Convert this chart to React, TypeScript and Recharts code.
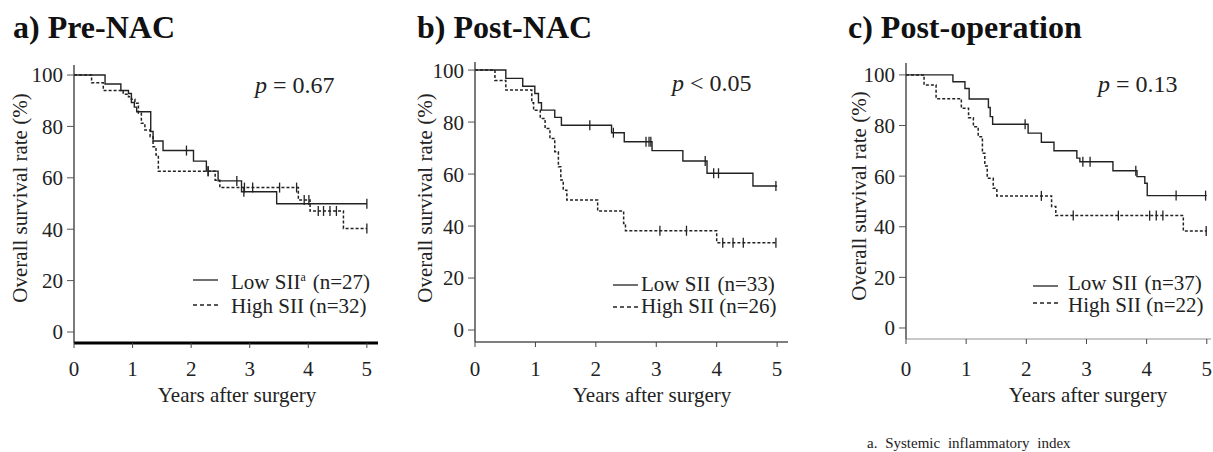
import React from "react";
import { ComposedChart, Line, Scatter, XAxis, YAxis } from "recharts";

// Kaplan-Meier step points: [years, survival %]
const lowPre: [number, number][] = [
  [0, 100], [0.53, 96.5], [0.8, 94], [0.93, 92.8], [0.98, 89.3], [1.03, 87.5], [1.07, 85.7],
  [1.31, 78], [1.35, 74.3], [1.52, 70.6], [2.04, 66.5], [2.26, 62.6], [2.46, 58.8],
  [2.86, 54.6], [3.46, 49.9], [5, 49.9],
];
const highPre: [number, number][] = [
  [0, 100], [0.3, 97], [0.5, 94], [0.84, 92.5], [0.93, 91.5], [0.98, 90.6], [1.04, 89],
  [1.1, 85.1], [1.15, 81.2], [1.21, 78.6], [1.3, 76], [1.35, 72.1], [1.4, 68.9], [1.44, 62.6],
  [2.41, 59.1], [2.49, 56.2], [3.83, 51.4], [4.03, 47.1], [4.6, 40.3], [5, 40.3],
];
const lowPost: [number, number][] = [
  [0, 100], [0.51, 96.8], [0.79, 93.8], [0.99, 91], [1.05, 87.4], [1.1, 84.6], [1.32, 81.8],
  [1.43, 78.8], [2.26, 75.9], [2.47, 72.4], [2.93, 69], [3.44, 65], [3.84, 60.3],
  [4.6, 55.4], [5, 55.4],
];
const highPost: [number, number][] = [
  [0, 100], [0.33, 96], [0.51, 92.3], [0.94, 87.4], [0.97, 84.5], [1.08, 81.4], [1.16, 77.5],
  [1.24, 73.7], [1.32, 68.6], [1.38, 62.8], [1.42, 57.7], [1.46, 53.8], [1.52, 50],
  [2.03, 45.8], [2.46, 41], [2.49, 38.2], [4.0, 33.6], [5, 33.6],
];
const lowOp: [number, number][] = [
  [0, 100], [0.78, 97.3], [0.98, 94.6], [1.05, 90.5], [1.37, 87.1], [1.4, 83.5], [1.44, 80.5],
  [2.03, 77], [2.25, 73.4], [2.46, 70], [2.84, 67.1], [2.89, 65.7], [3.44, 62.1],
  [3.84, 59.8], [3.97, 57.2], [4.01, 52.3], [5, 52.3],
];
const highOp: [number, number][] = [
  [0, 100], [0.3, 96], [0.5, 90.6], [0.92, 86.8], [1.04, 83.1], [1.12, 79.5], [1.2, 75.6],
  [1.27, 69], [1.31, 64], [1.35, 59.2], [1.45, 55.2], [1.51, 52.2], [2.42, 48], [2.49, 44.4],
  [4.61, 38.3], [5, 38.3],
];

// censored times (years)
const lowPreCens = [1.92, 2.29, 2.78, 2.9, 5];
const highPreCens = [2.29, 2.91, 3.05, 3.51, 3.8, 3.93, 4.01, 4.17, 4.26, 4.37, 4.48, 5];
const lowPostCens = [1.9, 2.29, 2.83, 2.88, 2.91, 3.81, 3.95, 4.03, 4.98];
const highPostCens = [3.06, 3.5, 4.1, 4.27, 4.44, 4.98];
const lowOpCens = [1.98, 2.94, 3.06, 3.82, 4.49, 4.98];
const highOpCens = [2.25, 2.78, 3.53, 4.05, 4.16, 4.27, 4.99];

const xTicks = [0, 1, 2, 3, 4, 5];
const yTicks = [0, 20, 40, 60, 80, 100];

const FONT = "Liberation Serif, Tinos, serif";
const INK = "#222";

const toPts = (c: [number, number][]) => c.map(([t, s]) => ({ t, s }));
const censPts = (c: [number, number][], times: number[]) =>
  times.map((t) => {
    let s = c[0][1];
    for (const [tt, ss] of c) if (tt <= t + 1e-9) s = ss;
    return { t, s };
  });

const CensorMark = (props: any) => {
  const { cx, cy } = props;
  if (cx == null || cy == null) return null;
  return <line x1={cx} x2={cx} y1={cy - 5} y2={cy + 5} stroke={INK} strokeWidth={1.3} />;
};

type PanelProps = {
  left: number;
  width: number;
  plotLeft: number;
  plotRight: number;
  plotTop: number;
  axisY: number;
  yDomain: [number, number];
  xMax: number;
  low: [number, number][];
  high: [number, number][];
  lowCens: number[];
  highCens: number[];
  xAxisStroke: string;
  xAxisWidth: number;
  xTickMargin: number;
};

const H = 430;

function Panel(p: PanelProps) {
  const yAxisW = p.plotLeft - p.left;
  const right = p.left + p.width - p.plotRight;
  const bottom = H - p.axisY - 30;
  const tickStyle = { fontSize: 21, fill: INK, fontFamily: FONT, style: { fontFamily: FONT } };
  return (
    <div style={{ position: "absolute", left: p.left, top: 0, fontFamily: FONT }}>
      <ComposedChart
        width={p.width}
        height={H}
        margin={{ top: p.plotTop, right, bottom, left: 0 }}
        style={{ fontFamily: FONT }}
      >
        <XAxis
          type="number"
          dataKey="t"
          domain={[0, p.xMax]}
          ticks={xTicks}
          allowDataOverflow
          height={30}
          tick={tickStyle}
          tickSize={5}
          tickMargin={p.xTickMargin}
          axisLine={{ stroke: p.xAxisStroke, strokeWidth: p.xAxisWidth }}
          tickLine={{ stroke: "#444" }}
        />
        <YAxis
          type="number"
          domain={p.yDomain}
          ticks={yTicks}
          allowDataOverflow
          width={yAxisW}
          tick={tickStyle}
          tickSize={7}
          tickMargin={4}
          axisLine={{ stroke: "#333", strokeWidth: 1.3 }}
          tickLine={{ stroke: "#555" }}
        />
        <Line
          data={toPts(p.low)}
          dataKey="s"
          type="stepAfter"
          stroke={INK}
          strokeWidth={1.4}
          dot={false}
          isAnimationActive={false}
        />
        <Line
          data={toPts(p.high)}
          dataKey="s"
          type="stepAfter"
          stroke={INK}
          strokeWidth={1.5}
          strokeDasharray="3 2"
          dot={false}
          isAnimationActive={false}
        />
        <Scatter
          data={censPts(p.low, p.lowCens)}
          dataKey="s"
          shape={<CensorMark />}
          isAnimationActive={false}
        />
        <Scatter
          data={censPts(p.high, p.highCens)}
          dataKey="s"
          shape={<CensorMark />}
          isAnimationActive={false}
        />
      </ComposedChart>
    </div>
  );
}

function LegendRow({ x, y, tx, ty, dashed, children }: any) {
  return (
    <g>
      <line
        x1={x}
        x2={x + 25}
        y1={y}
        y2={y}
        stroke={INK}
        strokeWidth={1.3}
        strokeDasharray={dashed ? "4 3" : undefined}
      />
      <text x={tx} y={ty} fontSize={21} fill={INK} style={{ fontFamily: FONT }}>
        {children}
      </text>
    </g>
  );
}

const txt = { fontFamily: FONT };

export default function App() {
  return (
    <div
      style={{
        position: "absolute",
        left: 0,
        top: 0,
        width: 1213,
        height: 452,
        background: "#fff",
        fontFamily: FONT,
        overflow: "hidden",
      }}
    >
      <Panel
        left={0}
        width={400}
        plotLeft={74}
        plotRight={378}
        plotTop={65}
        axisY={343}
        yDomain={[-4.28, 103.9]}
        xMax={5.19}
        low={lowPre}
        high={highPre}
        lowCens={lowPreCens}
        highCens={highPreCens}
        xAxisStroke="#000"
        xAxisWidth={3}
        xTickMargin={13}
      />
      <Panel
        left={400}
        width={400}
        plotLeft={475}
        plotRight={788}
        plotTop={62}
        axisY={342}
        yDomain={[-4.6, 103.1]}
        xMax={5.18}
        low={lowPost}
        high={highPost}
        lowCens={lowPostCens}
        highCens={highPostCens}
        xAxisStroke="#555"
        xAxisWidth={1.6}
        xTickMargin={14}
      />
      <Panel
        left={800}
        width={413}
        plotLeft={906}
        plotRight={1211}
        plotTop={63}
        axisY={339}
        yDomain={[-4.35, 104.7]}
        xMax={5.07}
        low={lowOp}
        high={highOp}
        lowCens={lowOpCens}
        highCens={highOpCens}
        xAxisStroke="#c8c8c8"
        xAxisWidth={2}
        xTickMargin={17}
      />
      <svg
        width={1213}
        height={452}
        style={{ position: "absolute", left: 0, top: 0, pointerEvents: "none", fontFamily: FONT }}
      >
        {/* titles */}
        <text x={13} y={38} fontSize={32} fontWeight="bold" fill="#111" style={txt}>a) Pre-NAC</text>
        <text x={417} y={38} fontSize={32} fontWeight="bold" fill="#111" style={txt}>b) Post-NAC</text>
        <text x={848} y={38} fontSize={32} fontWeight="bold" fill="#111" style={txt}>c) Post-operation</text>

        {/* p values */}
        <text x={255} y={93} fontSize={24} fill={INK} style={txt}>
          <tspan fontStyle="italic">p</tspan> = 0.67
        </text>
        <text x={672} y={91} fontSize={24} fill={INK} style={txt}>
          <tspan fontStyle="italic">p</tspan> &lt; 0.05
        </text>
        <text x={1098} y={92} fontSize={24} fill={INK} style={txt}>
          <tspan fontStyle="italic">p</tspan> = 0.13
        </text>

        {/* y axis titles */}
        <text x={27} y={198} fontSize={21} fill={INK} textAnchor="middle" transform="rotate(-90 27 198)" style={txt}>
          Overall survival rate (%)
        </text>
        <text x={432} y={198} fontSize={21} fill={INK} textAnchor="middle" transform="rotate(-90 432 198)" style={txt}>
          Overall survival rate (%)
        </text>
        <text x={866} y={196} fontSize={21} fill={INK} textAnchor="middle" transform="rotate(-90 866 196)" style={txt}>
          Overall survival rate (%)
        </text>

        {/* x axis titles */}
        <text x={237} y={402} fontSize={21} fill={INK} textAnchor="middle" style={txt}>Years after surgery</text>
        <text x={652} y={402} fontSize={21} fill={INK} textAnchor="middle" style={txt}>Years after surgery</text>
        <text x={1088} y={402} fontSize={21} fill={INK} textAnchor="middle" style={txt}>Years after surgery</text>

        {/* legends */}
        <LegendRow x={193} y={280} tx={231} ty={289}>
          Low SII<tspan fontSize={12} dy={-8}>a</tspan>
          <tspan dy={8} dx={7}>(n=27)</tspan>
        </LegendRow>
        <LegendRow x={193} y={305} tx={231} ty={313} dashed>
          High SII (n=32)
        </LegendRow>
        <LegendRow x={613} y={285} tx={641} ty={291}>
          Low SII<tspan dx={7}>(n=33)</tspan>
        </LegendRow>
        <LegendRow x={613} y={307} tx={641} ty={313} dashed>
          High SII (n=26)
        </LegendRow>
        <LegendRow x={1033} y={286} tx={1068} ty={290}>
          Low SII<tspan dx={7}>(n=37)</tspan>
        </LegendRow>
        <LegendRow x={1033} y={303} tx={1068} ty={312} dashed>
          High SII (n=22)
        </LegendRow>

        {/* footnote */}
        <text x={867} y={448} fontSize={15} fill={INK} wordSpacing={4} style={txt}>
          a. Systemic inflammatory index
        </text>
      </svg>
    </div>
  );
}
